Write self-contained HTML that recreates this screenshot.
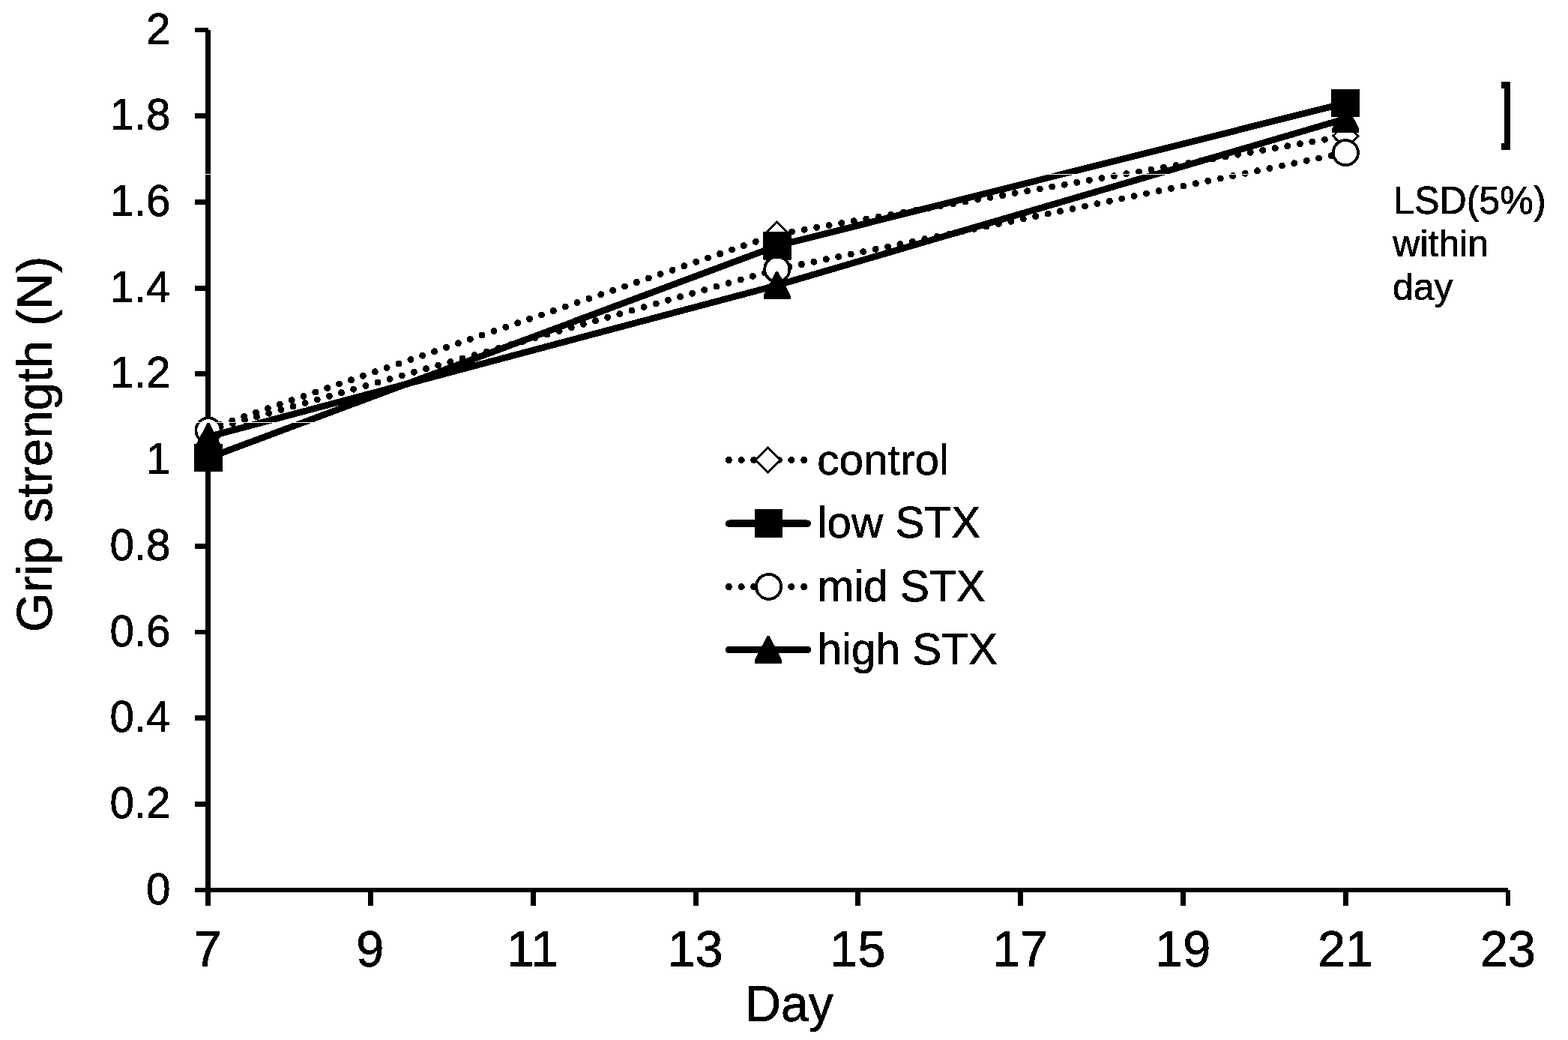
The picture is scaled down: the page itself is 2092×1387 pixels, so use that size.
<!DOCTYPE html>
<html lang="en">
<head>
<meta charset="utf-8">
<title>Grip strength by day</title>
<style>
html,body{margin:0;padding:0;background:#fff}
body{width:2092px;height:1387px;overflow:hidden}
svg{display:block}
text{font-family:"Liberation Sans",Arial,Helvetica,sans-serif;fill:#000;stroke:#000;stroke-width:0.7px;stroke-linejoin:round}
.yt{font-size:58.33px;text-anchor:end}
.xt{font-size:66.67px;text-anchor:middle}
.ax{font-size:66.67px;text-anchor:middle}
.lg{font-size:58.33px}
.lsd{font-size:50px}
</style>
</head>
<body>
<svg width="2092" height="1387" viewBox="0 0 2092 1387">
<defs><filter id="bw" filterUnits="userSpaceOnUse" x="0" y="0" width="2092" height="1387" color-interpolation-filters="sRGB"><feColorMatrix type="matrix" values="0.333 0.334 0.333 0 0 0.333 0.334 0.333 0 0 0.333 0.334 0.333 0 0 0 0 0 1 0"/><feComponentTransfer><feFuncR type="discrete" tableValues="0 1"/><feFuncG type="discrete" tableValues="0 1"/><feFuncB type="discrete" tableValues="0 1"/></feComponentTransfer></filter></defs>
<g filter="url(#bw)">
<rect width="2092" height="1387" fill="#fff"/>
<g fill="#000" shape-rendering="crispEdges">
<rect x="274" y="40" width="7" height="1168"/>
<rect x="260" y="1184" width="1752" height="6"/>
<rect x="260" y="1069" width="18" height="7"/>
<rect x="260" y="954" width="18" height="7"/>
<rect x="260" y="840" width="18" height="6"/>
<rect x="260" y="725" width="18" height="7"/>
<rect x="260" y="610" width="18" height="7"/>
<rect x="260" y="495" width="18" height="7"/>
<rect x="260" y="381" width="18" height="7"/>
<rect x="260" y="266" width="18" height="7"/>
<rect x="260" y="151" width="18" height="7"/>
<rect x="260" y="37" width="18" height="6"/>
<rect x="491" y="1187" width="7" height="21"/>
<rect x="708" y="1187" width="7" height="21"/>
<rect x="925" y="1187" width="7" height="21"/>
<rect x="1141" y="1187" width="7" height="21"/>
<rect x="1358" y="1187" width="7" height="21"/>
<rect x="1575" y="1187" width="7" height="21"/>
<rect x="1792" y="1187" width="7" height="21"/>
<rect x="2009" y="1187" width="6" height="21"/>
</g>
<g>
<text class="yt" transform="translate(227.50 1205.60) scale(1.0 1.02)">0</text>
<text class="yt" transform="translate(227.50 1090.90) scale(1.0 1.02)">0.2</text>
<text class="yt" transform="translate(227.50 976.20) scale(1.0 1.02)">0.4</text>
<text class="yt" transform="translate(227.50 861.50) scale(1.0 1.02)">0.6</text>
<text class="yt" transform="translate(227.50 746.80) scale(1.0 1.02)">0.8</text>
<text class="yt" transform="translate(227.50 632.10) scale(1.0 1.02)">1</text>
<text class="yt" transform="translate(227.50 517.40) scale(1.0 1.02)">1.2</text>
<text class="yt" transform="translate(227.50 402.70) scale(1.0 1.02)">1.4</text>
<text class="yt" transform="translate(227.50 288.00) scale(1.0 1.02)">1.6</text>
<text class="yt" transform="translate(227.50 173.30) scale(1.0 1.02)">1.8</text>
<text class="yt" transform="translate(227.50 58.60) scale(1.0 1.02)">2</text>
<text class="xt" transform="translate(277.00 1288.80) scale(1.0 1.03)">7</text>
<text class="xt" transform="translate(493.86 1288.80) scale(1.0 1.03)">9</text>
<text class="xt" transform="translate(710.71 1288.80) scale(1.0 1.03)">11</text>
<text class="xt" transform="translate(927.57 1288.80) scale(1.0 1.03)">13</text>
<text class="xt" transform="translate(1144.43 1288.80) scale(1.0 1.03)">15</text>
<text class="xt" transform="translate(1361.29 1288.80) scale(1.0 1.03)">17</text>
<text class="xt" transform="translate(1578.14 1288.80) scale(1.0 1.03)">19</text>
<text class="xt" transform="translate(1795.00 1288.80) scale(1.0 1.03)">21</text>
<text class="xt" transform="translate(2011.86 1288.80) scale(1.0 1.03)">23</text>
</g>
<text class="ax" transform="translate(1053.00 1362.00) scale(0.992 1.035)">Day</text>
<text class="ax" transform="translate(69.00 592.30) rotate(-90) scale(1.01 1.0)">Grip strength (N)</text>
<g>
<polyline points="278.0,571.8 1036.6,312.5 1795.3,181.3" fill="none" stroke="#000" stroke-width="9.0" stroke-linecap="round" stroke-dasharray="0 16.775" stroke-dashoffset="0"/>
<path d="M278.0 555.2L294.6 571.8L278.0 588.4L261.4 571.8Z" fill="#fff" stroke="#000" stroke-width="2.8" stroke-linejoin="miter"/>
<path d="M1036.6 295.9L1053.2 312.5L1036.6 329.1L1020.0 312.5Z" fill="#fff" stroke="#000" stroke-width="2.8" stroke-linejoin="miter"/>
<path d="M1795.3 164.7L1811.9 181.3L1795.3 197.9L1778.7 181.3Z" fill="#fff" stroke="#000" stroke-width="2.8" stroke-linejoin="miter"/>
<polyline points="278.0,610.6 1037.0,327.8 1795.3,137.3" fill="none" stroke="#000" stroke-width="8.7" stroke-linecap="round" stroke-linejoin="round"/>
<rect x="259.2" y="591.9" width="37.5" height="37.5" fill="#000"/>
<rect x="1018.2" y="309.1" width="37.5" height="37.5" fill="#000"/>
<rect x="1776.5" y="118.6" width="37.5" height="37.5" fill="#000"/>
<polyline points="278.0,574.0 1036.8,359.2 1795.3,203.7" fill="none" stroke="#000" stroke-width="9.0" stroke-linecap="round" stroke-dasharray="0 16.775" stroke-dashoffset="0"/>
<circle cx="278.0" cy="574.0" r="16.6" fill="#fff" stroke="#000" stroke-width="3.8"/>
<circle cx="1036.8" cy="359.2" r="16.6" fill="#fff" stroke="#000" stroke-width="3.8"/>
<circle cx="1795.3" cy="203.7" r="16.6" fill="#fff" stroke="#000" stroke-width="3.8"/>
<polyline points="278.0,582.5 1036.6,380.5 1795.3,158.2" fill="none" stroke="#000" stroke-width="8.7" stroke-linecap="round" stroke-linejoin="round"/>
<path d="M276.5 564.0L279.5 564.0L296.0 596.1L296.0 601.0L260.0 601.0L260.0 596.1Z" fill="#000"/>
<path d="M1035.1 362.0L1038.1 362.0L1054.6 394.1L1054.6 399.0L1018.6 399.0L1018.6 394.1Z" fill="#000"/>
<path d="M1793.8 139.7L1796.8 139.7L1813.3 171.8L1813.3 176.7L1777.3 176.7L1777.3 171.8Z" fill="#000"/>
</g>
<g fill="#fff" shape-rendering="crispEdges"><rect x="0" y="563" width="2092" height="1"/><rect x="0" y="232" width="2092" height="1"/></g>
<g>
<polyline points="972.4,613.5 1082.5,613.5" fill="none" stroke="#000" stroke-width="9.2" stroke-linecap="round" stroke-dasharray="0 16.7" stroke-dashoffset="0"/>
<path d="M1024.7 596.9L1041.3 613.5L1024.7 630.1L1008.1 613.5Z" fill="#fff" stroke="#000" stroke-width="2.8" stroke-linejoin="miter"/>
<text class="lg" transform="translate(1090.20 632.80) scale(1.004 0.98)">control</text>
<polyline points="972.4,698.2 1077.5,698.2" fill="none" stroke="#000" stroke-width="9.2" stroke-linecap="round" stroke-linejoin="round"/>
<rect x="1006.8" y="679.5" width="37.5" height="37.5" fill="#000"/>
<text class="lg" transform="translate(1090.60 716.80) scale(1.003 1.01)">low STX</text>
<polyline points="972.4,782.4 1082.5,782.4" fill="none" stroke="#000" stroke-width="9.2" stroke-linecap="round" stroke-dasharray="0 16.7" stroke-dashoffset="0"/>
<circle cx="1025.6" cy="782.4" r="16.6" fill="#fff" stroke="#000" stroke-width="3.8"/>
<text class="lg" transform="translate(1090.60 801.60) scale(1.002 1.01)">mid STX</text>
<polyline points="972.4,866.4 1077.5,866.4" fill="none" stroke="#000" stroke-width="9.2" stroke-linecap="round" stroke-linejoin="round"/>
<path d="M1023.5 847.9L1026.5 847.9L1043.0 880.0L1043.0 884.9L1007.0 884.9L1007.0 880.0Z" fill="#000"/>
<text class="lg" transform="translate(1090.60 885.80) scale(1.002 1.01)">high STX</text>
</g>
<g fill="#000" shape-rendering="crispEdges"><rect x="2007" y="109" width="8" height="91"/><rect x="2003" y="109" width="12" height="9"/><rect x="2003" y="191" width="12" height="9"/></g>
<text class="lsd" transform="translate(1859.00 284.70) scale(1.004 1.03)">LSD(5%)</text>
<text class="lsd" transform="translate(1858.30 341.70) scale(1.0 0.99)">within</text>
<text class="lsd" transform="translate(1858.00 400.00) scale(1.0 0.99)">day</text>
</g>
</svg>
</body>
</html>
